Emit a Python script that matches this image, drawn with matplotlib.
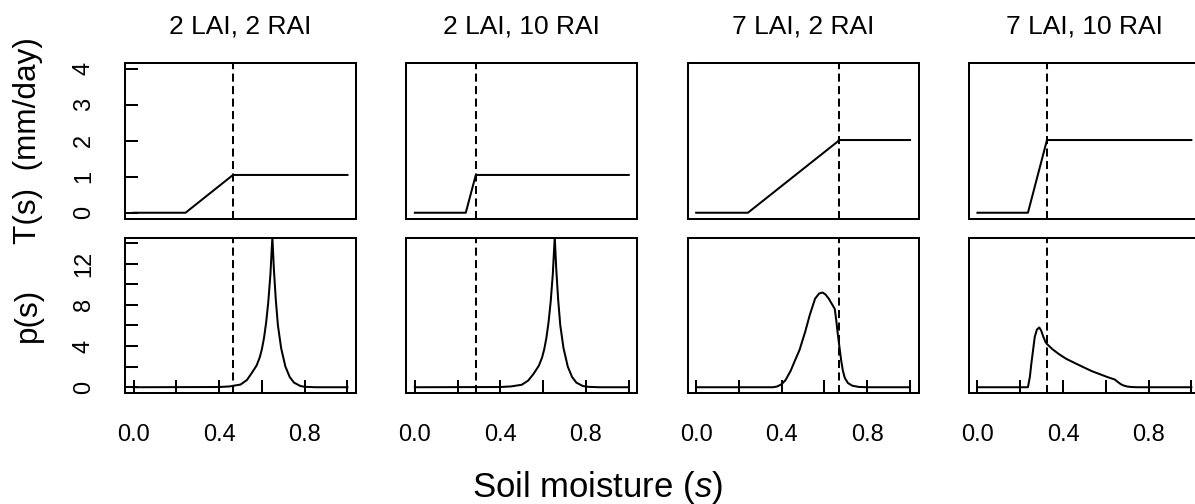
import matplotlib
matplotlib.use('Agg')
import matplotlib.pyplot as plt

plt.rcParams['font.family'] = ['Liberation Sans', 'DejaVu Sans']
plt.rcParams['mathtext.fontset'] = 'custom'
plt.rcParams['mathtext.it'] = 'Liberation Sans:italic'
plt.rcParams['mathtext.rm'] = 'Liberation Sans'

titles = ['2 LAI, 2 RAI', '2 LAI, 10 RAI', '7 LAI, 2 RAI', '7 LAI, 10 RAI']

# s* (dashed line) for each scenario
s_star = [0.465, 0.285, 0.670, 0.325]

# transpiration T(s), piecewise
t_s = [
    [0.0, 0.243, 0.465, 1.0],
    [0.0, 0.238, 0.285, 1.0],
    [0.0, 0.242, 0.660, 0.668, 1.0],
    [0.0, 0.236, 0.325, 1.0],
]
t_val = [
    [0.0, 0.0, 1.05, 1.05],
    [0.0, 0.0, 1.05, 1.05],
    [0.0, 0.0, 1.97, 2.02, 2.02],
    [0.0, 0.0, 2.02, 2.02],
]

# soil moisture pdf p(s)
p_s = [
    [0.0, 0.40, 0.45, 0.50, 0.53, 0.55, 0.575, 0.59, 0.60, 0.61, 0.62, 0.63,
     0.64, 0.649, 0.656, 0.665, 0.675, 0.69, 0.71, 0.73, 0.75, 0.78, 0.80,
     0.85, 1.0],
    [0.0, 0.40, 0.45, 0.50, 0.53, 0.555, 0.58, 0.595, 0.605, 0.615, 0.625,
     0.635, 0.645, 0.654, 0.661, 0.670, 0.680, 0.695, 0.715, 0.735, 0.755,
     0.785, 0.81, 0.86, 1.0],
    [0.0, 0.36, 0.38, 0.40, 0.418, 0.442, 0.46, 0.483, 0.51, 0.531, 0.556,
     0.575, 0.591, 0.605, 0.62, 0.637, 0.648, 0.655, 0.662, 0.670, 0.678,
     0.686, 0.695, 0.71, 0.73, 0.76, 0.80, 1.0],
    [0.0, 0.236, 0.245, 0.252, 0.26, 0.268, 0.278, 0.289, 0.298, 0.308,
     0.318, 0.325, 0.35, 0.382, 0.415, 0.455, 0.496, 0.535, 0.577, 0.61,
     0.642, 0.657, 0.67, 0.683, 0.70, 0.72, 0.75, 1.0],
]
p_val = [
    [0.0, 0.02, 0.08, 0.26, 0.7, 1.3, 2.1, 2.9, 3.7, 4.8, 6.3, 8.3,
     11.0, 14.6, 11.5, 8.5, 6.0, 3.8, 2.0, 1.0, 0.45, 0.12, 0.04,
     0.0, 0.0],
    [0.0, 0.02, 0.08, 0.24, 0.65, 1.3, 2.1, 2.9, 3.7, 4.8, 6.3, 8.3,
     11.0, 14.6, 11.5, 8.5, 6.0, 3.8, 2.0, 1.0, 0.45, 0.12, 0.04,
     0.0, 0.0],
    [0.0, 0.0, 0.08, 0.3, 0.7, 1.6, 2.5, 3.6, 5.4, 7.0, 8.6,
     9.1, 9.2, 9.0, 8.6, 8.0, 7.6, 6.5, 5.2, 3.9, 2.6,
     1.6, 0.9, 0.4, 0.15, 0.03, 0.0, 0.0],
    [0.0, 0.0, 1.0, 2.3, 3.6, 4.9, 5.6, 5.8, 5.5, 4.9,
     4.4, 4.2, 3.7, 3.2, 2.76, 2.35, 1.94, 1.56, 1.23, 0.97,
     0.75, 0.5, 0.3, 0.17, 0.07, 0.02, 0.0, 0.0],
]

t_ticks = [0, 1, 2, 3, 4]
t_ticklabels = ['0', '1', '2', '3', '4']
p_ticks = [0, 2, 4, 6, 8, 10, 12, 14]
p_ticklabels = ['0', '', '4', '', '8', '', '12', '']
x_ticks = [0.0, 0.2, 0.4, 0.6, 0.8, 1.0]
x_ticklabels = ['0.0', '', '0.4', '', '0.8', '']

W, H = 1195, 504
fig = plt.figure(figsize=(W / 100, H / 100), dpi=100)

lw = 1.45
fs_tick = 17
fs_title = 19
fs_ylab = 22.7
fs_xlab = 25
tick_len = 9.7


def px_box(x0, y0, x1, y1):
    return [x0 / W, 1 - y1 / H, (x1 - x0) / W, (y1 - y0) / H]


for i in range(4):
    left = 125 + i * 281.3
    right = left + 231
    ax_t = fig.add_axes(px_box(left, 63, right, 218.5))
    ax_p = fig.add_axes(px_box(left, 237.5, right, 393))

    for ax in (ax_t, ax_p):
        for sp in ax.spines.values():
            sp.set_linewidth(lw)
        ax.set_xlim(-0.04, 1.04)
        ax.axvline(s_star[i], color='black', lw=lw, dashes=(4.0, 2.2))
        ax.tick_params(direction='in', length=tick_len, width=lw,
                       labelsize=fs_tick)

    ax_t.plot(t_s[i], t_val[i], color='black', lw=lw)
    ax_t.set_ylim(-0.16, 4.16)
    ax_t.set_xticks([])
    ax_t.set_title(titles[i], fontsize=fs_title, pad=21.5)

    ax_p.plot(p_s[i], p_val[i], color='black', lw=lw, clip_on=True)
    ax_p.set_ylim(-0.56, 14.54)
    ax_p.set_xticks(x_ticks)
    ax_p.set_xticklabels(x_ticklabels)
    ax_p.tick_params(axis='x', pad=22.5)

    if i == 0:
        ax_t.set_yticks(t_ticks)
        ax_t.set_yticklabels(t_ticklabels, rotation=90, va='center')
        ax_p.set_yticks(p_ticks)
        ax_p.set_yticklabels(p_ticklabels, rotation=90, va='center')
        ax_t.tick_params(axis='y', pad=21.6)
        ax_p.tick_params(axis='y', pad=21.6)
    else:
        ax_t.set_yticks([])
        ax_p.set_yticks([])

fig.text(28 / W, 1 - 140.75 / H, 'T(s)  (mm/day)', rotation=90,
         ha='center', va='center', fontsize=fs_ylab)
fig.text(28 / W, 1 - 315.25 / H, 'p(s)', rotation=90,
         ha='center', va='center', fontsize=fs_ylab)
fig.text(597 / W, 1 - 487 / H, r'Soil moisture ($\it{s}$)',
         ha='center', va='center', fontsize=fs_xlab)

fig.savefig('out.png', dpi=100)
